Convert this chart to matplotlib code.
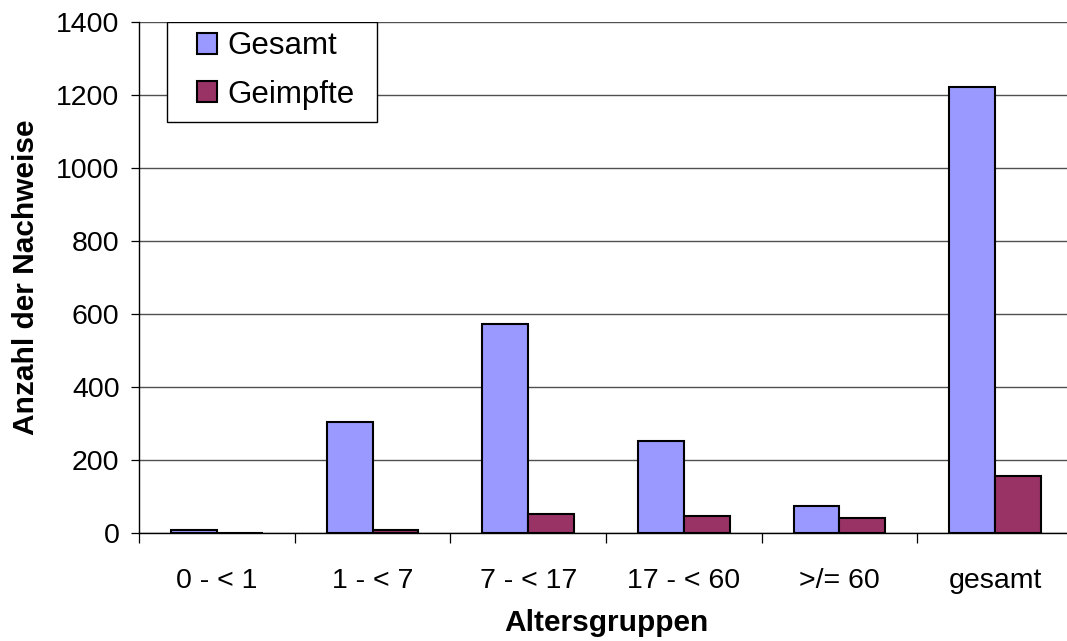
import matplotlib.pyplot as plt
from matplotlib.patches import Rectangle
import numpy as np

plt.rcParams['font.family'] = ['Liberation Sans', 'DejaVu Sans']

gruppen = ['0 - < 1', '1 - < 7', '7 - < 17', '17 - < 60', '>/= 60', 'gesamt']
gesamt = [8, 304, 573, 252, 75, 1221]
geimpfte = [0, 8, 53, 47, 42, 156]

x = np.arange(len(gruppen))
w = 0.295

fig = plt.figure(figsize=(10.67, 6.41), dpi=100)
ax = fig.add_axes([0.1303, 0.1685, 0.8753, 0.7972])

ax.bar(x - w / 2, gesamt, w, color='#9999FF', edgecolor='black', linewidth=1.5,
       label='Gesamt', zorder=3)
ax.bar(x + w / 2, geimpfte, w, color='#993366', edgecolor='black', linewidth=1.5,
       label='Geimpfte', zorder=3)

ax.set_xlim(-0.5, len(gruppen) - 0.5)
ax.set_ylim(0, 1400)
ax.set_yticks(np.arange(0, 1401, 200))
ax.yaxis.grid(True, color='#505050', linewidth=1.0, zorder=0)

# category boundaries get the tick marks, names sit between them
ax.set_xticks(np.arange(-0.5, len(gruppen) - 0.5, 1))
ax.set_xticklabels([])
ax.set_xticks(x, minor=True)
ax.set_xticklabels(gruppen, minor=True)
ax.tick_params(axis='x', which='major', length=7, width=0.9, direction='out')
ax.tick_params(axis='x', which='minor', length=0, pad=25, labelsize=20.5)
ax.tick_params(axis='y', length=6, width=0.9, direction='out', pad=8, labelsize=20.5)

for s in ['top', 'right']:
    ax.spines[s].set_visible(False)
for s in ['left', 'bottom']:
    ax.spines[s].set_linewidth(1.0)

ax.set_xlabel('Altersgruppen', fontsize=21.5, fontweight='bold', labelpad=11)
ax.set_ylabel('Anzahl der Nachweise', fontsize=21.5, fontweight='bold', labelpad=12)

# legend without its own frame; the box is drawn wider than the entries
leg = ax.legend(loc='upper left', bbox_to_anchor=(0.062, 0.982), fontsize=22.5,
                frameon=False, handlelength=0.65, handleheight=0.65,
                handletextpad=0.32, borderpad=0, labelspacing=0.59,
                borderaxespad=0)
for h in leg.legend_handles:
    h.set_linewidth(1.5)
ax.add_patch(Rectangle((0.030, 0.804), 0.2248, 0.196, transform=ax.transAxes,
                       facecolor='white', edgecolor='black', linewidth=1.0,
                       zorder=4))
leg.set_zorder(5)

fig.savefig('out.png', dpi=100)
